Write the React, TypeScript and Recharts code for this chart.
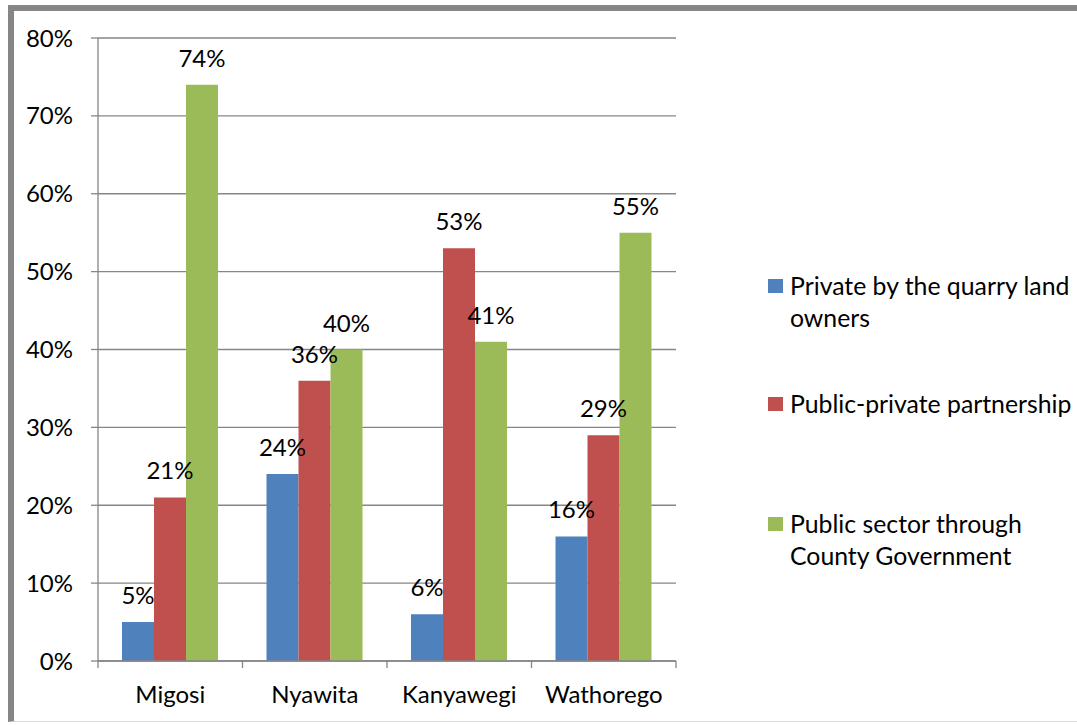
import React from "react";
import { BarChart, Bar, XAxis, YAxis, CartesianGrid, LabelList } from "recharts";

const categories = ["Migosi", "Nyawita", "Kanyawegi", "Wathorego"];
const privateOwners = [5, 24, 6, 16];
const publicPrivate = [21, 36, 53, 29];
const publicSector = [74, 40, 41, 55];
const yTicks = [0, 10, 20, 30, 40, 50, 60, 70, 80];

const seriesNames = [
  "Private by the quarry land owners",
  "Public-private partnership",
  "Public sector through County Government",
];
const seriesLines = [
  ["Private by the quarry land", "owners"],
  ["Public-private partnership"],
  ["Public sector through", "County Government"],
];
const colors = ["#4F81BD", "#C0504D", "#9BBB59"];

const data = categories.map((c, i) => ({
  name: c,
  a: privateOwners[i],
  b: publicPrivate[i],
  c: publicSector[i],
}));

const FONT = "Lato, 'Liberation Sans', sans-serif";
const GRAY = "#868686";
const TICK_MARGIN = 25;
const TICK_LEN = 7;

function CategoryTick(props: any) {
  const { x, y, payload, index, visibleTicksCount, width } = props;
  const half = payload && payload.offset ? payload.offset : width / visibleTicksCount / 2;
  const axisY = y - TICK_MARGIN;
  const last = index === visibleTicksCount - 1;
  return (
    <g>
      <line x1={x - half} x2={x - half} y1={axisY} y2={axisY + TICK_LEN} stroke={GRAY} strokeWidth={1.3} />
      {last && <line x1={x + half} x2={x + half} y1={axisY} y2={axisY + TICK_LEN} stroke={GRAY} strokeWidth={1.3} />}
      <text x={x} y={y} dy="0.71em" textAnchor="middle" fill="#000" fontSize={24} fontFamily={FONT}>
        {payload.value}
      </text>
    </g>
  );
}

export default function App() {
  const legendTops = [270, 388, 508];
  return (
    <div style={{ position: "absolute", left: 0, top: 0, width: 1077, height: 725, background: "#fff", fontFamily: FONT }}>
      <div
        style={{
          position: "absolute",
          left: 8,
          top: 5,
          width: 1100,
          height: 717,
          borderTop: `6px solid ${GRAY}`,
          borderLeft: `6px solid ${GRAY}`,
          borderBottom: "1px solid #dcdcdc",
          boxSizing: "border-box",
        }}
      />
      <div style={{ position: "absolute", left: 0, top: 0 }}>
        <BarChart
          width={1077}
          height={725}
          data={data}
          margin={{ top: 38, right: 401, left: 0, bottom: 24 }}
          barCategoryGap={24}
          barGap={0}
        >
          <CartesianGrid horizontal vertical={false} stroke={GRAY} strokeWidth={1.3} />
          <XAxis
            dataKey="name"
            tickLine={false}
            tickSize={0}
            tickMargin={TICK_MARGIN}
            height={40}
            axisLine={{ stroke: GRAY, strokeWidth: 1.3 }}
            tick={<CategoryTick />}
            interval={0}
          />
          <YAxis
            width={98}
            domain={[0, 80]}
            ticks={yTicks}
            tickFormatter={(v) => `${v}%`}
            tickSize={7}
            tickMargin={18}
            axisLine={{ stroke: GRAY, strokeWidth: 1.3 }}
            tickLine={{ stroke: GRAY, strokeWidth: 1.3 }}
            tick={{ fill: "#000", fontSize: 24, fontFamily: FONT }}
            interval={0}
          />
          {(["a", "b", "c"] as const).map((k, i) => (
            <Bar key={k} dataKey={k} name={seriesNames[i]} fill={colors[i]} isAnimationActive={false}>
              <LabelList
                dataKey={k}
                position="top"
                offset={18}
                formatter={(v: any) => `${v}%`}
                style={{ fill: "#000", fontSize: 24, fontFamily: FONT }}
              />
            </Bar>
          ))}
        </BarChart>
      </div>
      {seriesLines.map((lines, i) => (
        <div key={i} style={{ position: "absolute", left: 768, top: legendTops[i], display: "flex", alignItems: "flex-start" }}>
          <div style={{ width: 15, height: 14, background: colors[i], marginTop: 9, marginRight: 7 }} />
          <div style={{ fontSize: 24.8, lineHeight: "32px", color: "#000", fontFamily: FONT, whiteSpace: "nowrap" }}>
            {lines.map((l, j) => (
              <div key={j}>{l}</div>
            ))}
          </div>
        </div>
      ))}
    </div>
  );
}
